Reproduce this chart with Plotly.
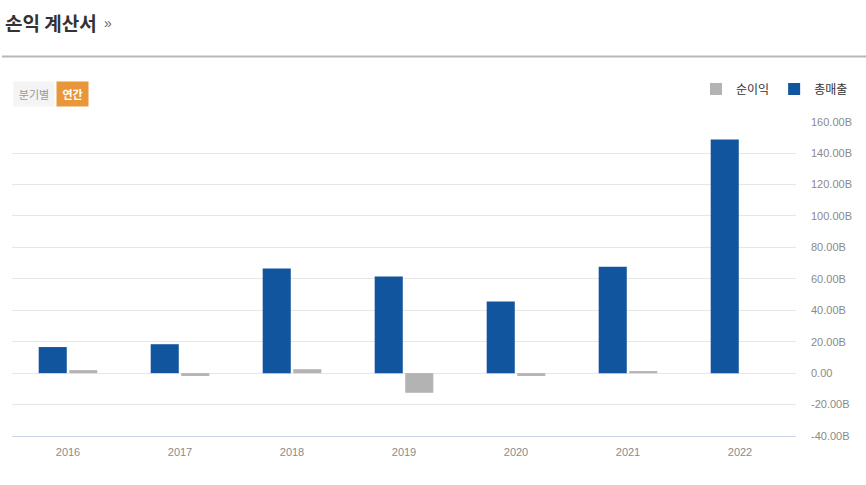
import plotly.graph_objects as go

years = ["2016", "2017", "2018", "2019", "2020", "2021", "2022"]
revenue_b = [16.6, 18.4, 66.5, 61.4, 45.6, 67.7, 148.7]   # 총매출 (B)
net_income_b = [1.9, -1.8, 2.5, -12.5, -1.8, 1.3, 0.0]  # 순이익 (B)
y_ticks = [-40, -20, 0, 20, 40, 60, 80, 100, 120, 140, 160]
y_tick_labels = [("0.00" if v == 0 else f"{v:.2f}B") for v in y_ticks]

BLUE = "#12559f"
GRAY = "#b3b3b3"
FONT = "Liberation Sans, Arial, Noto Sans CJK KR, sans-serif"

fig = go.Figure()
fig.add_trace(go.Bar(x=years, y=revenue_b, name="총매출", marker=dict(color=BLUE, line=dict(width=0)),
                     legendrank=2))
fig.add_trace(go.Bar(x=years, y=net_income_b, name="순이익", marker=dict(color=GRAY, line=dict(width=0)),
                     legendrank=1))

fig.update_layout(
    width=866, height=485,
    margin=dict(l=12, r=70, t=120, b=49),
    paper_bgcolor="white", plot_bgcolor="white",
    barmode="group", bargap=0.455, bargroupgap=0.08,
    font=dict(family=FONT, color="#333"),
    showlegend=True,
    legend=dict(orientation="h", xref="container", yref="container",
                x=0.985, xanchor="right", y=1 - 89 / 485, yanchor="middle",
                font=dict(size=12, color="#333", family="Noto Sans CJK KR, sans-serif"),
                itemwidth=30, bgcolor="rgba(0,0,0,0)"),
    xaxis=dict(showgrid=False, showline=True, linecolor="#ccd6eb", linewidth=1,
               ticks="", tickfont=dict(size=11, color="#8a8a8a"), ticklabelstandoff=6,
               fixedrange=True),
    yaxis=dict(side="right", range=[-40, 160], tickvals=y_ticks, ticktext=y_tick_labels,
               showgrid=True, gridcolor="#e6e6e6", gridwidth=1, zeroline=False,
               showline=False, ticks="", tickfont=dict(size=11, color="#8a8a8a"),
               ticklabelstandoff=14, fixedrange=True),
    shapes=[dict(type="line", xref="paper", yref="paper", x0=-10 / 784, x1=(866 - 12) / 784,
                 y0=1 + (120 - 54.5) / 316, y1=1 + (120 - 54.5) / 316,
                 line=dict(color="#b8b8b8", width=2))],
    annotations=[
        dict(text="<b>손익 계산서</b>", xref="paper", yref="paper",
             x=-9 / 784, y=1 + (120 - 20) / 316, xanchor="left", yanchor="middle",
             showarrow=False, font=dict(size=19, color="#333", family="Noto Sans CJK KR, sans-serif")),
        dict(text="»", xref="paper", yref="paper",
             x=90 / 784, y=1 + (120 - 21) / 316, xanchor="left", yanchor="middle",
             showarrow=False, font=dict(size=14, color="#666", family=FONT)),
        dict(text="분기별", xref="paper", yref="paper",
             x=1 / 784, y=1 + (120 - 92) / 316, xanchor="left", yanchor="middle",
             showarrow=False, bgcolor="#f4f4f4", borderpad=4, width=32,
             font=dict(size=11, color="#999", family="Noto Sans CJK KR, sans-serif")),
        dict(text="<b>연간</b>", xref="paper", yref="paper",
             x=44 / 784, y=1 + (120 - 92) / 316, xanchor="left", yanchor="middle",
             showarrow=False, bgcolor="#e8963a", borderpad=4, width=23,
             font=dict(size=11, color="white", family="Noto Sans CJK KR, sans-serif")),
    ],
)

fig.write_html("out.html")
